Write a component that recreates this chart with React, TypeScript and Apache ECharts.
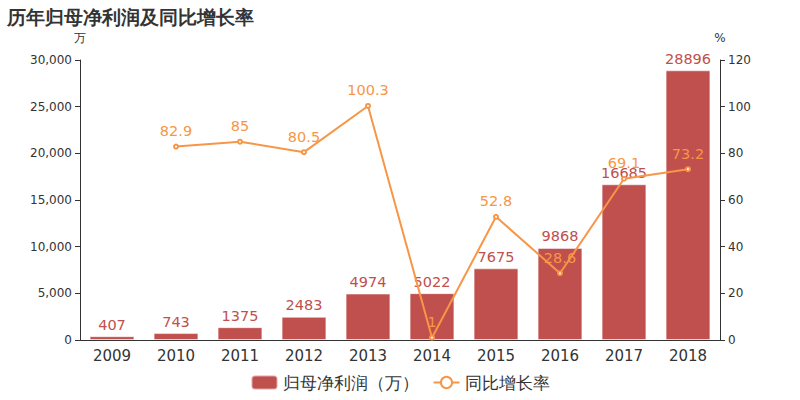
import React, { useEffect, useRef } from "react";
import * as echarts from "echarts";

const years = ["2009", "2010", "2011", "2012", "2013", "2014", "2015", "2016", "2017", "2018"];
const profit = [407, 743, 1375, 2483, 4974, 5022, 7675, 9868, 16685, 28896];
const growth = [null, 82.9, 85, 80.5, 100.3, 1, 52.8, 28.6, 69.1, 73.2];

const FONT = "DejaVu Sans";

export default function App() {
  const ref = useRef<HTMLDivElement>(null);
  useEffect(() => {
    const chart = echarts.init(ref.current!, null, { renderer: "svg" });
    chart.setOption({
      animation: false,
      textStyle: { fontFamily: FONT },
      title: {
        text: "历年归母净利润及同比增长率",
        left: 2,
        top: 2,
        textStyle: { fontSize: 19, fontWeight: "bold", color: "#333", fontFamily: FONT },
      },
      legend: {
        bottom: 4,
        left: "center",
        itemWidth: 26,
        itemHeight: 14,
        itemGap: 14,
        textStyle: { fontSize: 17, color: "#333", fontFamily: FONT },
        data: ["归母净利润（万）", "同比增长率"],
      },
      grid: { left: 80, right: 80, top: 60, bottom: 60 },
      xAxis: {
        type: "category",
        data: years,
        axisTick: { alignWithLabel: false },
        axisLine: { lineStyle: { color: "#333" } },
        axisLabel: { fontSize: 15, color: "#333", margin: 8 },
      },
      yAxis: [
        {
          type: "value",
          name: "万",
          nameGap: 16,
          min: 0,
          max: 30000,
          interval: 5000,
          nameTextStyle: { color: "#333", fontSize: 12, padding: [0, 0, 0, 0] },
          axisLine: { show: true, lineStyle: { color: "#333" } },
          axisTick: { show: true },
          splitLine: { show: false },
          axisLabel: { fontSize: 12, color: "#333" },
        },
        {
          type: "value",
          name: "%",
          nameGap: 16,
          min: 0,
          max: 120,
          interval: 20,
          nameTextStyle: { color: "#333", fontSize: 12, padding: [0, 0, 0, 0] },
          axisLine: { show: true, lineStyle: { color: "#333" } },
          axisTick: { show: true },
          splitLine: { show: false },
          axisLabel: { fontSize: 12, color: "#333" },
        },
      ],
      series: [
        {
          name: "归母净利润（万）",
          type: "bar",
          data: profit,
          barWidth: "70%",
          itemStyle: { color: "#c0504d", borderColor: "rgba(255,255,255,0.5)", borderWidth: 1 },
          label: { show: true, position: "top", color: "#c0504d", fontSize: 14.5, distance: 4 },
        },
        {
          name: "同比增长率",
          type: "line",
          yAxisIndex: 1,
          data: growth,
          connectNulls: false,
          symbol: "emptyCircle",
          symbolSize: 4,
          itemStyle: { color: "#f79646" },
          lineStyle: { color: "#f79646", width: 2 },
          label: { show: true, position: "top", color: "#f79646", fontSize: 14.5, distance: 5 },
        },
      ],
    });
    return () => chart.dispose();
  }, []);
  return <div ref={ref} style={{ position: "absolute", left: 0, top: 0, width: 800, height: 400 }} />;
}
